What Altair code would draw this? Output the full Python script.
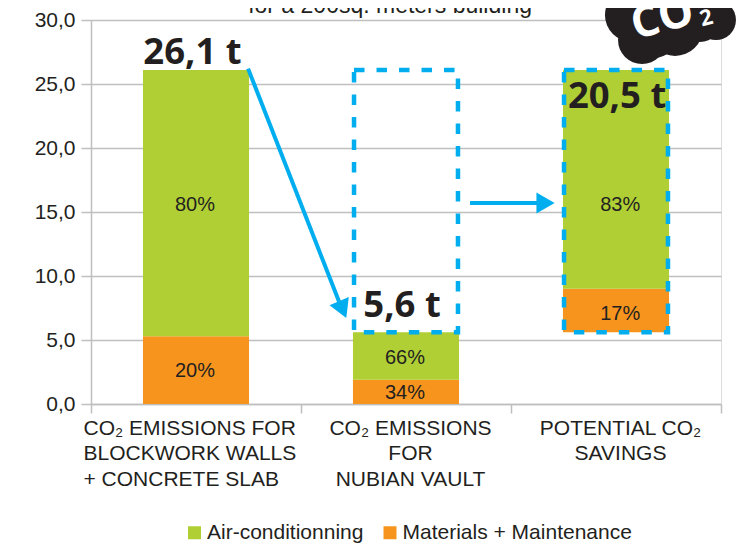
import altair as alt
import pandas as pd

# --- values
categories = ["CO₂ EMISSIONS FOR|BLOCKWORK WALLS|+ CONCRETE SLAB",
              "CO₂ EMISSIONS|FOR|NUBIAN VAULT",
              "POTENTIAL CO₂|SAVINGS"]
base = [0.0, 0.0, 5.6]
materials = [5.3, 1.9, 3.4]
aircon = [20.8, 3.7, 17.1]
series_names = ["Air-conditionning", "Materials + Maintenance"]
pct_air = ["80%", "66%", "83%"]
pct_mat = ["20%", "34%", "17%"]
pct_air_x = [0.495, 1.495, 2.52]
pct_air_y = [15.53, 3.58, 15.53]
pct_mat_x = [0.495, 1.495, 2.52]
pct_mat_y = [2.58, 0.88, 7.03]
big_labels = ["26,1 t", "5,6 t", "20,5 t"]
big_x = [0.483, 1.481, 2.505]
big_y = [26.6, 6.8, 23.1]
dash_cats = [1, 2]
dash_low = 5.6
dash_high = 26.1
cloud_x = [2.576, 2.624, 2.781, 2.9, 2.976, 2.729, 2.68]
cloud_y = [30.39, 28.44, 29.375, 30.0, 30.0, 30.78, 29.0]
cloud_d = [54, 48, 56, 44, 40, 50, 50]

GREEN = "#AFCF35"
ORANGE = "#F7941E"
BLUE = "#00AEEF"
DARK = "#231F20"
GRID = "#BFBFBF"
FONT = "Liberation Sans"

rows = []
for c, b, m, a in zip(categories, base, materials, aircon):
    rows.append(dict(cat=c, s=series_names[1], y0=b, y1=b + m))
    rows.append(dict(cat=c, s=series_names[0], y0=b + m, y1=b + m + a))
bars_df = pd.DataFrame(rows)

xband = alt.X("cat:N", sort=categories, title=None,
              scale=alt.Scale(paddingInner=0, paddingOuter=0),
              axis=alt.Axis(labelExpr="split(datum.label,'|')", labelAngle=0, labelFont=FONT,
                            labelFontSize=21, labelColor=DARK, labelLineHeight=25.5,
                            labelPadding=4, labelLimit=300, tickBand="extent", tickSize=9,
                            labelOverlap=False,
                            labelAlign={"condition": {"test": "indexof(datum.label,'BLOCK')>=0", "value": "left"},
                                        "value": "center"},
                            labelOffset={"condition": {"test": "indexof(datum.label,'BLOCK')>=0", "value": -113},
                                         "value": 4},
                            tickColor=GRID, tickWidth=1.5, domainColor=GRID, domainWidth=1.5, grid=False))
yscale = alt.Scale(domain=[0, 30], nice=False)
yaxis = alt.Axis(values=[0, 5, 10, 15, 20, 25, 30],
                 labelExpr="replace(format(datum.value,'.1f'),'.',',')",
                 labelFont=FONT, labelFontSize=21, labelColor=DARK, labelPadding=6,
                 tickSize=10, tickColor=GRID, tickWidth=1.5, domainColor=GRID, domainWidth=1.5,
                 gridColor=GRID, gridWidth=1.5)
yenc = alt.Y("y0:Q", scale=yscale, title=None, axis=yaxis)

bars = alt.Chart(bars_df).mark_bar(strokeWidth=0, width=alt.RelativeBandSize(band=0.505)).encode(
    x=xband, y=yenc, y2="y1:Q",
    color=alt.Color("s:N", title=None,
                    scale=alt.Scale(domain=series_names, range=[GREEN, ORANGE]),
                    legend=alt.Legend(orient="none", legendX=93, legendY=502, direction="horizontal",
                                      symbolType="square", symbolSize=169, symbolStrokeWidth=0,
                                      labelFont=FONT, labelFontSize=21, labelColor=DARK,
                                      labelLimit=300, columnPadding=15.5, labelOffset=2)))

dash_df = pd.DataFrame({"cat": [categories[i] for i in dash_cats],
                        "y0": [dash_low] * 2, "y1": [dash_high] * 2})
dashes = alt.Chart(dash_df).mark_bar(fill=None, fillOpacity=0, stroke=BLUE, strokeWidth=4.5,
                                     strokeDash=[10.5, 12], width=alt.RelativeBandSize(band=0.495)).encode(
    x=alt.X("cat:N", sort=categories), y=alt.Y("y0:Q"), y2="y1:Q")

base_layer = alt.layer(bars, dashes)

xq = alt.Scale(domain=[0, 3], nice=False)


def qx(field):
    return alt.X(field, type="quantitative", scale=xq, axis=None)


def qy(field):
    return alt.Y(field, type="quantitative", scale=yscale, title=None, axis=yaxis)


arrow1 = alt.Chart(pd.DataFrame({"x": [0.748, 1.181], "y": [26.2, 8.0]})).mark_line(
    color=BLUE, strokeWidth=4).encode(x=qx("x"), y=qy("y"))
arrow2 = alt.Chart(pd.DataFrame({"x": [1.805, 2.157], "y": [15.7, 15.7]})).mark_line(
    color=BLUE, strokeWidth=4).encode(x=qx("x"), y=qy("y"))
head1 = alt.Chart(pd.DataFrame({"x": [1.193], "y": [7.6]})).mark_point(
    shape="triangle", size=441, angle=157, filled=True, color=BLUE, opacity=1).encode(x=qx("x"), y=qy("y"))
head2 = alt.Chart(pd.DataFrame({"x": [2.15], "y": [15.7]})).mark_point(
    shape="triangle", size=441, angle=90, filled=True, color=BLUE, opacity=1).encode(x=qx("x"), y=qy("y"))

pct_df = pd.DataFrame({"x": pct_air_x + pct_mat_x, "y": pct_air_y + pct_mat_y, "t": pct_air + pct_mat})
pct = alt.Chart(pct_df).mark_text(font=FONT, fontSize=20, color=DARK, baseline="middle").encode(
    x=qx("x"), y=qy("y"), text="t:N")

big_df = pd.DataFrame({"x": big_x, "y": big_y, "t": big_labels})
big = alt.Chart(big_df).mark_text(font="Open Sans", fontWeight="bold", fontSize=36.5, color=DARK,
                                  baseline="alphabetic").encode(x=qx("x"), y=qy("y"), text="t:N")

cloud_df = pd.DataFrame({"x": cloud_x, "y": cloud_y, "d": [v * v for v in cloud_d]})
cloud = alt.Chart(cloud_df).mark_point(shape="circle", filled=True, color=DARK, opacity=1).encode(
    x=qx("x"), y=qy("y"),
    size=alt.Size("d:Q", scale=None, legend=None))
co = alt.Chart(pd.DataFrame({"x": [2.722], "y": [30.1], "t": ["CO"]})).mark_text(
    font="Open Sans", fontWeight="bold", fontSize=44, color="white", angle=345, baseline="middle"
).encode(x=qx("x"), y=qy("y"), text="t:N")
two = alt.Chart(pd.DataFrame({"x": [2.93], "y": [30.15], "t": ["2"]})).mark_text(
    font="Open Sans", fontWeight="bold", fontSize=22, color="white", angle=345, baseline="middle"
).encode(x=qx("x"), y=qy("y"), text="t:N")
subtitle = alt.Chart(pd.DataFrame({"x": [1.424], "y": [30.55], "t": ["for a 200sq. meters building"]})).mark_text(
    font=FONT, fontSize=23, color=DARK, baseline="alphabetic").encode(x=qx("x"), y=qy("y"), text="t:N")

overlay = alt.layer(arrow1, arrow2, head1, head2, pct, big, cloud, co, two, subtitle)

chart = alt.layer(base_layer, overlay).resolve_scale(x="independent").properties(
    width=630, height=384,
    padding={"left": 83, "top": 12, "right": 18, "bottom": 140},
    autosize=alt.AutoSizeParams(type="none"),
).configure_view(stroke=GRID, strokeWidth=1.5).configure(background="white")

chart.save("out.html", embed_options={"renderer": "svg", "actions": False})
